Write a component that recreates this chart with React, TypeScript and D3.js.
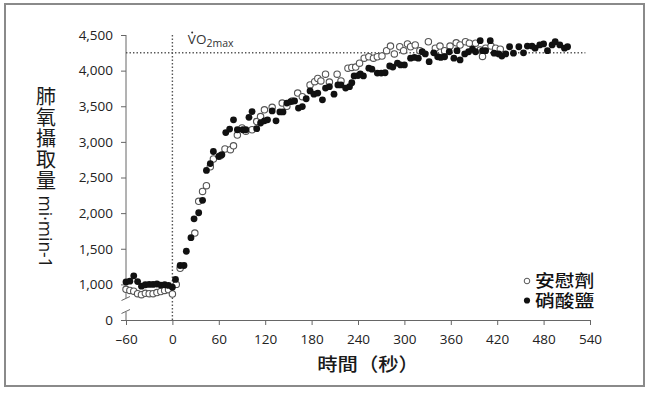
import React, { useEffect, useRef } from 'react';
import * as d3 from 'd3';

// [seconds, VO2 ml/min] — open circles
const placebo: [number, number][] = [
  [-60, 930], [-55, 915], [-50, 905], [-45, 870], [-40, 855], [-35, 875], [-30, 870],
  [-25, 870], [-20, 885], [-15, 900], [-10, 915], [-5, 925], [0, 865],
  [5, 1000], [10, 1225], [29, 1720], [34, 2165], [39, 2305], [44, 2385], [49, 2650],
  [53, 2760], [62, 2805], [68, 2900], [75, 2890], [79, 2945], [84, 3095], [90, 3195],
  [95, 3150], [103, 3170], [109, 3285], [114, 3355], [119, 3450], [129, 3485], [142, 3545],
  [148, 3500], [155, 3575], [162, 3685], [168, 3635], [178, 3800], [184, 3845], [188, 3890],
  [192, 3855], [198, 3950], [203, 3840], [213, 3950], [218, 3855], [227, 4035], [232, 4045],
  [237, 4050], [242, 4105], [248, 4175], [254, 4195], [260, 4175], [265, 4195], [271, 4205],
  [277, 4280], [282, 4345], [287, 4235], [294, 4335], [299, 4280], [304, 4375], [308, 4335],
  [314, 4360], [320, 4280], [331, 4405], [340, 4315], [346, 4345], [352, 4280], [359, 4345],
  [367, 4390], [372, 4360], [379, 4405], [384, 4385], [392, 4385], [398, 4290], [401, 4200],
  [405, 4315], [412, 4345], [418, 4315], [424, 4300]
];

// [seconds, VO2 ml/min] — filled circles
const nitrate: [number, number][] = [
  [-60, 1035], [-55, 1045], [-50, 1120], [-45, 1040], [-40, 975], [-35, 995], [-30, 1000],
  [-25, 1000], [-20, 1005], [-15, 990], [-10, 995], [-5, 985], [0, 960],
  [4, 1070], [10, 1265], [15, 1265], [18, 1465], [24, 1655], [28, 1920], [34, 2005],
  [39, 2180], [44, 2600], [49, 2695], [53, 2865], [60, 2795], [64, 2820], [69, 3130],
  [74, 3180], [79, 3310], [84, 3170], [91, 3170], [95, 3170], [99, 3345], [103, 3425],
  [109, 3185], [114, 3265], [119, 3295], [123, 3310], [129, 3435], [134, 3295], [139, 3420],
  [143, 3420], [148, 3545], [153, 3565], [158, 3575], [163, 3475], [168, 3495], [173, 3605],
  [178, 3715], [183, 3670], [188, 3685], [194, 3590], [198, 3755], [203, 3775], [209, 3670],
  [214, 3800], [218, 3800], [224, 3755], [229, 3775], [232, 3830], [235, 3925], [240, 3930],
  [243, 3955], [247, 3925], [254, 4035], [258, 4020], [265, 3965], [270, 3965], [275, 3970],
  [281, 4065], [285, 4050], [291, 4105], [295, 4080], [300, 4080], [308, 4175], [313, 4185],
  [318, 4175], [323, 4265], [327, 4235], [332, 4125], [338, 4250], [343, 4195], [347, 4185],
  [352, 4195], [358, 4265], [364, 4175], [368, 4280], [372, 4150], [378, 4235], [383, 4265],
  [388, 4300], [392, 4265], [398, 4420], [401, 4280], [405, 4280], [411, 4420], [416, 4245],
  [422, 4235], [426, 4205], [431, 4235], [436, 4335], [441, 4245], [448, 4335], [454, 4250],
  [459, 4345], [465, 4345], [469, 4315], [475, 4360], [480, 4375], [485, 4280], [491, 4360],
  [495, 4405], [501, 4360], [507, 4315], [511, 4335]
];

const xTicks = [-60, 0, 60, 120, 180, 240, 300, 360, 420, 480, 540];
// broken axis: the 500 slot carries the "0" label
const yTicks = [500, 1000, 1500, 2000, 2500, 3000, 3500, 4000, 4500];
const yTickLabels = ['0', '1,000', '1,500', '2,000', '2,500', '3,000', '3,500', '4,000', '4,500'];
const legendLabels = ['安慰劑', '硝酸鹽'];
const yTitle = '肺氧攝取量';
const yTitleUnit = ' mi·min-1';
const xTitle = '時間（秒）';
const vo2max = 4250;

const tickFont = '"Open Sans", "Noto Sans", sans-serif';
const cjkFont = '"Noto Sans CJK TC", "Noto Sans CJK SC", sans-serif';

function draw(node: SVGSVGElement) {
  const svg = d3.select(node);
  svg.selectAll('*').remove();

  const x = d3.scaleLinear().domain([-60, 540]).range([126, 590]);
  const y = d3.scaleLinear().domain([500, 4500]).range([320, 35]);
  const axisColor = '#666';

  // frame
  svg.append('rect')
     .attr('x', 5).attr('y', 4).attr('width', 639).attr('height', 382)
     .attr('fill', '#fff').attr('stroke', '#8a8a8a').attr('stroke-width', 2);

  // x axis
  const xAxis = svg.append('g')
                   .attr('transform', `translate(0, ${y(500)})`)
                   .call(d3.axisBottom(x)
                           .tickValues(xTicks)
                           .tickSizeInner(5)
                           .tickSizeOuter(0)
                           .tickPadding(9)
                           .tickFormat(d => (+d < 0 ? '–' + Math.abs(+d) : String(d))));
  xAxis.select('.domain').attr('stroke', axisColor);
  xAxis.selectAll('line').attr('stroke', axisColor);
  xAxis.selectAll('text')
       .attr('fill', '#222').style('font-family', tickFont).style('font-size', '13.5px');

  // y axis
  const yAxis = svg.append('g')
                   .attr('transform', `translate(${x(-60)}, 0)`)
                   .call(d3.axisLeft(y)
                           .tickValues(yTicks)
                           .tickSizeInner(5)
                           .tickSizeOuter(0)
                           .tickPadding(8)
                           .tickFormat((d, i) => yTickLabels[i]));
  yAxis.select('.domain').remove();
  yAxis.selectAll('line').attr('stroke', axisColor);
  yAxis.selectAll('text')
       .attr('fill', '#222').style('font-family', tickFont).style('font-size', '13.5px');

  // axis line with break marks between 0 and 1,000
  const x0 = x(-60);
  const b1 = y(500) - 22, b2 = y(500) - 9;
  svg.append('line').attr('x1', x0).attr('x2', x0).attr('y1', y(4500)).attr('y2', b1)
     .attr('stroke', axisColor);
  svg.append('line').attr('x1', x0).attr('x2', x0).attr('y1', b2 + 1).attr('y2', y(500))
     .attr('stroke', axisColor);
  [b1, b2].forEach(b => {
    svg.append('line')
       .attr('x1', x0 - 4.5).attr('y1', b + 2.5).attr('x2', x0 + 4).attr('y2', b - 1.5)
       .attr('stroke', axisColor).attr('stroke-width', 1);
  });

  // dotted reference lines
  svg.append('line')
     .attr('x1', x(0)).attr('x2', x(0)).attr('y1', y(4500)).attr('y2', y(500))
     .attr('stroke', '#555').attr('stroke-width', 1.4).attr('stroke-dasharray', '1.4 2.1');
  svg.append('line')
     .attr('x1', x(-60)).attr('x2', x(534)).attr('y1', y(vo2max)).attr('y2', y(vo2max))
     .attr('stroke', '#555').attr('stroke-width', 1.4).attr('stroke-dasharray', '1.4 2.1');

  // VO2max label
  const lbl = svg.append('text')
                 .attr('x', x(20)).attr('y', 44)
                 .attr('fill', '#333')
                 .style('font-family', tickFont).style('font-size', '13.5px');
  lbl.append('tspan').text('VO');
  lbl.append('tspan').attr('dy', 3).style('font-size', '10.5px').text('2max');
  svg.append('circle').attr('cx', x(20) + 4.3).attr('cy', 32.5).attr('r', 1).attr('fill', '#333');

  // points
  svg.append('g')
     .selectAll('circle')
     .data(placebo)
     .join('circle')
     .attr('cx', d => x(d[0]))
     .attr('cy', d => y(d[1]))
     .attr('r', 3.2)
     .attr('fill', '#fff')
     .attr('stroke', '#555')
     .attr('stroke-width', 1.1);

  svg.append('g')
     .selectAll('circle')
     .data(nitrate)
     .join('circle')
     .attr('cx', d => x(d[0]))
     .attr('cy', d => y(d[1]))
     .attr('r', 3.4)
     .attr('fill', '#111');

  // legend
  const legend = svg.append('g');
  const rowGap = 19.5;
  legendLabels.forEach((name, i) => {
    const cy = 281 + i * rowGap;
    legend.append('circle')
          .attr('cx', 527).attr('cy', cy).attr('r', i === 0 ? 2.8 : 3.1)
          .attr('fill', i === 0 ? '#fff' : '#111')
          .attr('stroke', i === 0 ? '#555' : 'none').attr('stroke-width', 1);
    legend.append('text')
          .attr('transform', `translate(535, ${cy - 1}) scale(1.2, 1)`)
          .attr('dominant-baseline', 'central')
          .attr('fill', '#111')
          .style('font-family', cjkFont).style('font-size', '16.5px')
          .style('font-weight', 500)
          .text(name);
  });

  // y title, vertical writing: upright CJK, rotated unit
  const yt = svg.append('text')
                .attr('x', 46).attr('y', 86)
                .style('writing-mode', 'vertical-rl')
                .attr('fill', '#1a1a1a')
                .style('font-family', cjkFont);
  yt.append('tspan').style('font-size', '20px').style('letter-spacing', '1px').text(yTitle);
  yt.append('tspan').style('font-size', '17.5px').style('font-family', tickFont).text(yTitleUnit);

  // x title
  svg.append('text')
     .attr('transform', `translate(${x(253)}, 363) scale(1.1, 1)`)
     .attr('text-anchor', 'middle')
     .attr('dominant-baseline', 'central')
     .attr('fill', '#1a1a1a')
     .style('font-family', cjkFont).style('font-size', '18.5px')
     .style('font-weight', 500)
     .text(xTitle);
}

export default function App() {
  const ref = useRef<SVGSVGElement>(null);

  useEffect(() => {
    if (ref.current) draw(ref.current);
  }, []);

  return (
    <svg ref={ref} width={650} height={393}
         style={{ position: 'absolute', left: 0, top: 0, background: '#fff' }} />
  );
}
